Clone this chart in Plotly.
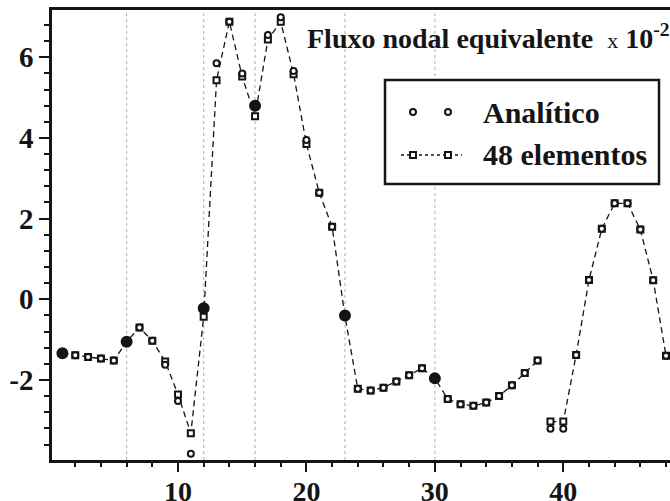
import plotly.graph_objects as go

# ---- data ----
nodes = list(range(1, 49))
analitico = [-1.34, -1.39, -1.43, -1.47, -1.52, -1.05, -0.70, -1.03, -1.62, -2.52,
             -3.83, -0.22, 5.85, 6.88, 5.60, 4.80, 6.55, 6.99, 5.66, 3.95,
             2.64, 1.80, -0.40, -2.22, -2.26, -2.19, -2.04, -1.88, -1.71, -1.96,
             -2.47, -2.60, -2.64, -2.56, -2.40, -2.13, -1.83, -1.52, -3.21, -3.21,
             -1.38, 0.48, 1.75, 2.38, 2.38, 1.73, 0.47, -1.40]
elementos48 = [-1.34, -1.39, -1.43, -1.47, -1.52, -1.05, -0.70, -1.03, -1.54, -2.36,
               -3.32, -0.43, 5.43, 6.88, 5.52, 4.54, 6.44, 6.88, 5.58, 3.85,
               2.64, 1.80, -0.42, -2.22, -2.26, -2.19, -2.04, -1.88, -1.71, -1.96,
               -2.47, -2.60, -2.64, -2.56, -2.40, -2.13, -1.83, -1.52, -3.03, -3.03,
               -1.38, 0.48, 1.75, 2.38, 2.38, 1.73, 0.47, -1.40]
segment_break = 38          # the 48-element curve is not joined between nodes 38 and 39
corner_nodes = [1, 6, 12, 16, 23, 30]
region_boundaries = [6, 12, 16, 23, 30]
y_tickvals = [-2, 0, 2, 4, 6]
y_ticktext = ["-2", "0", "2", "4", "6"]
x_tickvals = [10, 20, 30, 40]
x_ticktext = ["10", "20", "30", "40"]

FONT = "Liberation Serif"
INK = "#151515"

fig = go.Figure()

# region boundary dotted lines
for xb in region_boundaries:
    fig.add_shape(type="line", xref="x", yref="paper", x0=xb, x1=xb, y0=0, y1=1,
                  line=dict(color="#b0b0b0", width=1, dash="dot"), layer="below")

# 48 elementos (two segments)
for xs, ys in [(nodes[:segment_break], elementos48[:segment_break]),
               (nodes[segment_break:], elementos48[segment_break:])]:
    fig.add_trace(go.Scatter(
        x=xs, y=ys, mode="lines+markers", name="48 elementos", showlegend=False,
        line=dict(color=INK, width=1.3, dash="6px,4px"),
        marker=dict(symbol="square", size=6, color="white", opacity=1,
                    line=dict(color=INK, width=2))))

# Analítico
sizes = [10 if n in corner_nodes else 6 for n in nodes]
fills = [INK if n in corner_nodes else "white" for n in nodes]
fig.add_trace(go.Scatter(
    x=nodes, y=analitico, mode="markers", name="Analítico", showlegend=False,
    marker=dict(symbol="circle", size=sizes, color=fills, opacity=1,
                line=dict(color=INK, width=2))))

# ---- layout geometry ----
W, H = 670, 501
ML, MR, MT, MB = 52, 0, 10, 41
pw, ph = W - ML - MR, H - MT - MB

def px(xpix):
    return (xpix - ML) / pw

def py(ypix):
    return 1 - (ypix - MT) / ph

# title annotation
fig.add_annotation(xref="paper", yref="paper", x=px(305), y=py(36),
                   xanchor="left", yanchor="middle", showarrow=False,
                   text="<b>Fluxo nodal equivalente</b>  <span style='font-size:22px'>x</span> <b>10<sup>-2</sup></b>",
                   font=dict(family=FONT, size=28, color=INK))

# custom legend box
fig.add_shape(type="rect", xref="paper", yref="paper",
              x0=px(385), x1=px(659), y0=py(80), y1=py(184),
              line=dict(color=INK, width=2.5), fillcolor="white", layer="above")
legend_rows = [("Analítico", 112), ("48 elementos", 155)]
sym_x = [413, 448]
for label, yrow in legend_rows:
    fig.add_annotation(xref="paper", yref="paper", x=px(481), y=py(yrow),
                       xanchor="left", yanchor="middle", showarrow=False,
                       text="<b>%s</b>" % label,
                       font=dict(family=FONT, size=30, color=INK))
# Analítico symbols
for sx in sym_x:
    fig.add_shape(type="circle", xref="paper", yref="paper",
                  xsizemode="pixel", ysizemode="pixel",
                  xanchor=px(sx), yanchor=py(legend_rows[0][1]),
                  x0=-3, x1=3, y0=-3, y1=3,
                  line=dict(color=INK, width=2), fillcolor="white", layer="above")
# 48 elementos symbols
fig.add_shape(type="line", xref="paper", yref="paper",
              x0=px(401), x1=px(462), y0=py(legend_rows[1][1]), y1=py(legend_rows[1][1]),
              line=dict(color=INK, width=1.3, dash="3px,3px"), layer="above")
for sx in sym_x:
    fig.add_shape(type="rect", xref="paper", yref="paper",
                  xsizemode="pixel", ysizemode="pixel",
                  xanchor=px(sx), yanchor=py(legend_rows[1][1]),
                  x0=-3, x1=3, y0=-3, y1=3,
                  line=dict(color=INK, width=2), fillcolor="white", layer="above")

# axis ranges from pixel calibration
x_per_px = 1 / 12.843
x0_data = (ML - 49.57) * x_per_px
x1_data = (W - MR - 49.57) * x_per_px
y_per_px = 1 / 40.34
y0_px = 299.3
y_top = (y0_px - MT) * y_per_px
y_bot = (y0_px - (H - MB)) * y_per_px

fig.update_layout(
    width=W, height=H,
    margin=dict(l=ML, r=MR, t=MT, b=MB, autoexpand=False),
    paper_bgcolor="white", plot_bgcolor="white",
    showlegend=False,
    xaxis=dict(range=[x0_data, x1_data], tickmode="array", tickvals=x_tickvals,
               ticktext=["<b>%s</b>" % t for t in x_ticktext], ticks="outside",
               ticklen=9, tickwidth=1.5, tickcolor=INK, automargin=False,
               ticklabelstandoff=-4,
               showline=True, linecolor=INK, linewidth=2.5, mirror=True,
               showgrid=False, zeroline=False,
               tickfont=dict(family=FONT, size=28, color=INK),
               minor=dict(dtick=2, tick0=0, ticks="outside", ticklen=4,
                          tickwidth=1.5, tickcolor=INK, showgrid=False)),
    yaxis=dict(range=[y_bot, y_top], tickmode="array", tickvals=y_tickvals,
               ticktext=["<b>%s</b>" % t for t in y_ticktext], ticks="outside",
               ticklen=10, tickwidth=1.5, tickcolor=INK, automargin=False,
               showline=True, linecolor=INK, linewidth=2.5, mirror=False,
               showgrid=False, zeroline=False,
               tickfont=dict(family=FONT, size=29, color=INK),
               minor=dict(dtick=0.4, tick0=0, ticks="outside", ticklen=5,
                          tickwidth=1.5, tickcolor=INK, showgrid=False)),
)

fig.write_html("out.html")
